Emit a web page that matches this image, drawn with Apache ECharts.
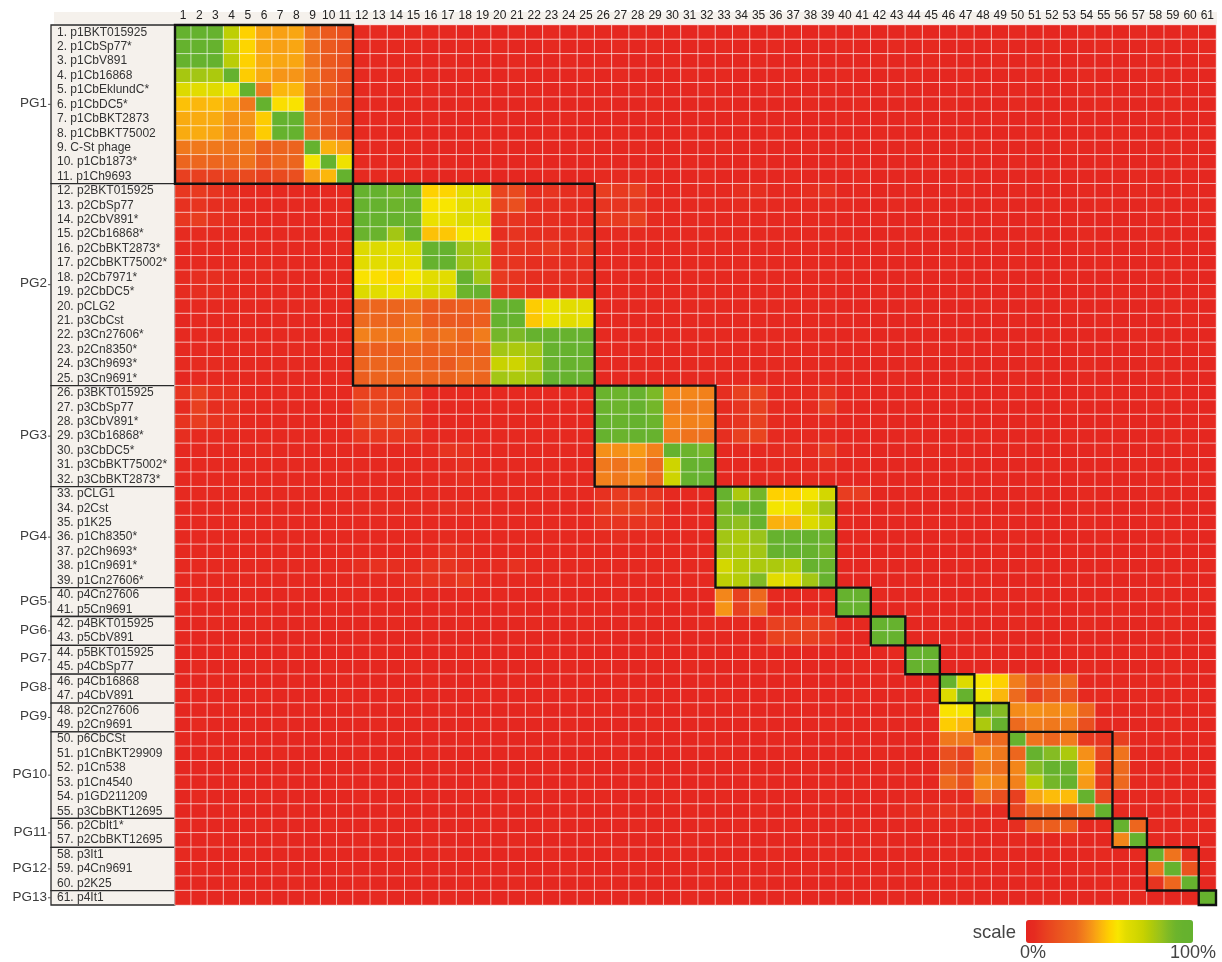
<!DOCTYPE html>
<html>
<head>
<meta charset="utf-8">
<title>Plasmid groups</title>
<style>html,body{margin:0;padding:0;background:#fff}#c{width:1222px;height:962px}</style>
<script src="https://cdn.jsdelivr.net/npm/echarts@6/dist/echarts.min.js"></script>
</head>
<body>
<div id="c"></div>
<script>
const plasmids = ["p1BKT015925","p1CbSp77*","p1CbV891","p1Cb16868","p1CbEklundC*","p1CbDC5*","p1CbBKT2873","p1CbBKT75002","C-St phage","p1Cb1873*","p1Ch9693",
"p2BKT015925","p2CbSp77","p2CbV891*","p2Cb16868*","p2CbBKT2873*","p2CbBKT75002*","p2Cb7971*","p2CbDC5*","pCLG2","p3CbCst","p3Cn27606*","p2Cn8350*","p3Ch9693*","p3Cn9691*",
"p3BKT015925","p3CbSp77","p3CbV891*","p3Cb16868*","p3CbDC5*","p3CbBKT75002*","p3CbBKT2873*",
"pCLG1","p2Cst","p1K25","p1Ch8350*","p2Ch9693*","p1Cn9691*","p1Cn27606*",
"p4Cn27606","p5Cn9691","p4BKT015925","p5CbV891","p5BKT015925","p4CbSp77","p4Cb16868","p4CbV891","p2Cn27606","p2Cn9691",
"p6CbCSt","p1CnBKT29909","p1Cn538","p1Cn4540","p1GD211209","p3CbBKT12695","p2CbIt1*","p2CbBKT12695","p3It1","p4Cn9691","p2K25","p4It1"];
const groupNames = ["PG1","PG2","PG3","PG4","PG5","PG6","PG7","PG8","PG9","PG10","PG11","PG12","PG13"];
const groupFirst = [1,12,26,33,40,42,44,46,48,50,56,58,61];
const groupLast  = [11,25,32,39,41,43,45,47,49,55,57,60,61];

const row01=[100,99,97,72,50,42,41,42,32,22,18, 4,4,3,4,3,3,2,3,2,3,2,3,2,3, 3,2,3,2,3,2,3, 2,3,2,2,3,2,3, 2,3,2,2,3,2,2,3,2,2,3,2,2,2,3,2,2,3,2,2,3,2];
const row02=[99,100,97,72,51,42,41,42,32,22,18, 3,4,3,3,2,2,3,2,3,2,2,3,2,2, 2,3,2,3,2,2,2, 3,2,2,3,2,2,2, 3,2,2,3,2,3,2,2,2,3,2,2,3,2,2,3,2,2,3,2,2,3];
const row03=[97,97,100,73,50,43,42,42,32,22,18, 3,3,3,3,2,3,2,2,2,3,2,2,3,2, 3,2,2,2,3,2,2, 2,2,3,2,2,3,2, 2,2,3,2,2,3,2,2,2,3,2,3,2,2,2,2,2,2,3,2,2,3];
const row04=[77,78,76,100,49,43,39,39,33,22,16, 3,3,3,3,2,2,3,2,2,3,2,2,2,3, 2,3,2,2,2,3,2, 3,2,2,2,3,2,2, 3,2,2,2,3,2,2,3,2,2,2,3,2,2,3,2,2,2,3,2,2,2];
const row05=[62,60,61,57,100,34,45,45,30,24,16, 3,3,3,3,3,2,2,3,2,2,3,2,2,2, 2,2,3,2,2,2,3, 2,2,2,3,2,2,3, 2,2,2,3,2,2,2,3,2,2,3,2,2,2,3,2,2,2,3,2,2,2];
const row06=[47,45,46,43,33,100,53,54,25,18,14, 3,3,2,3,2,2,3,2,2,2,3,2,2,2, 3,2,2,3,2,2,2, 3,2,2,2,2,3,2, 2,3,2,2,2,2,3,2,2,2,3,2,2,2,2,3,2,2,2,3,2,2];
const row07=[43,43,43,38,39,49,98,97,28,20,14, 3,3,3,2,3,2,2,2,3,2,2,2,3,2, 2,2,2,3,2,2,2, 2,3,2,2,2,2,2, 3,2,2,2,3,2,2,2,2,3,2,2,2,3,2,2,2,2,3,2,2,2];
const row08=[43,43,42,37,38,49,97,99,29,20,14, 3,3,2,3,2,2,2,3,2,2,2,3,2,2, 2,3,2,2,2,3,2, 2,2,2,3,2,2,2, 2,2,3,2,2,2,2,3,2,2,2,3,2,2,2,2,3,2,2,2,2,3];
const row09=[33,33,33,32,33,24,26,26,100,44,41, 3,3,3,3,2,2,2,2,3,2,2,2,2,3, 2,2,3,2,2,2,2, 3,2,2,2,2,3,2, 2,2,2,2,3,2,2,2,3,2,2,2,2,3,2,2,2,2,2,3,2,2];
const row10=[27,28,28,30,32,22,28,27,56,100,57, 4,3,3,3,2,3,2,2,2,2,3,2,2,2, 3,2,2,2,2,3,2, 2,2,3,2,2,2,2, 3,2,2,2,2,3,2,2,2,2,3,2,2,2,2,3,2,2,2,2,3,2];
const row11=[12,12,12,14,16,12,16,18,40,45,100, 4,4,3,3,2,2,3,2,2,2,2,3,2,2, 4,4,4,3,2,2,3, 2,2,2,2,3,2,2, 2,3,2,2,2,2,2,3,2,2,2,2,3,2,2,2,2,3,2,2,2,2];
const row12=[9,10,8,6,4,4,3,3,3,3,4, 96,98,88,95,50,51,60,60,14,16,6,8,6,6, 11,10,12,4,3,3,3, 3,6,6,3,3,6,7, 2,3,2,2,3,2,2,3,2,2,3,2,2,2,3,2,2,3,2,2,3,2];
const row13=[7,8,6,6,3,3,3,3,3,3,4, 96,96,90,94,54,55,60,60,14,18,6,6,6,4, 8,8,8,4,3,3,3, 3,5,5,3,3,4,4, 3,2,2,3,2,3,2,2,2,3,2,2,3,2,2,3,2,2,3,2,2,3];
const row14=[9,11,7,6,4,3,3,3,3,3,4, 98,96,96,92,58,58,63,63,8,8,6,6,4,4, 10,10,12,5,3,3,3, 3,3,3,3,3,3,3, 2,2,3,2,2,3,2,2,2,3,2,3,2,2,2,2,2,2,3,2,2,3];
const row15=[5,5,4,4,3,3,3,3,3,3,3, 92,92,78,96,47,48,56,56,6,8,6,6,6,6, 3,4,4,3,3,3,3, 3,3,3,3,3,3,3, 3,2,2,2,3,2,2,3,2,2,2,3,2,2,3,2,2,2,3,2,2,2];
const row16=[3,4,3,3,3,3,3,3,3,3,5, 62,62,60,64,97,97,78,76,8,8,8,10,6,10, 3,3,3,3,3,3,3, 3,3,3,3,3,3,3, 2,2,2,3,2,2,2,3,2,2,3,2,2,2,3,2,2,2,3,2,2,2];
const row17=[3,3,3,3,3,5,3,3,3,3,3, 60,60,60,60,97,97,78,74,8,8,6,6,6,6, 3,3,3,3,3,3,3, 3,3,3,3,3,3,3, 2,3,2,2,2,2,3,2,2,2,3,2,2,2,2,3,2,2,2,3,2,2];
const row18=[5,6,6,5,3,5,3,3,3,3,3, 54,53,50,55,60,60,95,78,10,8,6,6,6,6, 3,3,3,3,3,3,3, 3,3,3,3,3,3,3, 3,2,2,2,3,2,2,2,2,3,2,2,2,3,2,2,2,2,3,2,2,2];
const row19=[5,6,6,4,4,4,3,3,3,3,3, 62,60,58,60,64,64,90,94,8,8,6,6,6,6, 3,3,3,3,3,3,3, 3,3,3,3,3,3,3, 2,2,3,2,2,2,2,3,2,2,2,3,2,2,2,2,3,2,2,2,2,3];
const row20=[3,3,3,3,3,3,3,3,5,3,3, 27,28,27,30,22,22,24,24,96,96,49,58,60,60, 3,3,3,3,3,3,3, 3,3,3,3,3,3,3, 2,2,2,2,3,2,2,2,3,2,2,2,2,3,2,2,2,2,2,3,2,2];
const row21=[2,3,3,3,3,2,3,3,3,3,3, 30,28,27,32,22,22,22,24,96,96,48,58,60,59, 3,3,3,3,3,3,3, 3,3,3,3,3,3,3, 3,2,2,2,2,3,2,2,2,2,3,2,2,2,2,3,2,2,2,2,3,2];
const row22=[3,3,3,3,3,3,3,3,3,3,3, 35,33,33,35,30,32,28,34,88,86,95,96,94,94, 3,3,3,3,3,3,3, 3,3,3,3,3,3,3, 2,3,2,2,2,2,2,3,2,2,2,2,3,2,2,2,2,3,2,2,2,2];
const row23=[3,3,3,3,3,3,3,4,4,4,3, 24,24,24,26,24,26,24,26,78,76,78,97,96,95, 3,3,3,3,3,3,3, 3,3,3,3,3,3,3, 2,2,3,2,2,3,2,2,2,3,2,3,2,2,2,2,2,2,3,2,2,3];
const row24=[4,5,5,3,3,3,3,3,3,4,3, 26,27,27,28,24,22,30,27,70,68,76,92,94,92, 3,3,3,3,3,3,3, 3,3,3,3,3,3,3, 3,2,2,2,3,2,2,3,2,2,2,3,2,2,3,2,2,2,3,2,2,2];
const row25=[2,3,3,3,3,3,3,3,3,3,3, 24,26,26,28,26,26,30,27,78,76,78,97,96,94, 3,3,3,3,3,3,3, 3,3,3,3,3,3,3, 2,2,2,3,2,2,2,3,2,2,3,2,2,2,3,2,2,2,3,2,2,2];
const row26=[8,12,7,7,3,3,3,3,3,3,3, 13,14,14,12,3,3,3,3,3,3,3,3,3,3, 92,90,94,86,36,36,35, 6,12,14,4,4,5,8, 2,3,2,2,2,2,3,2,2,2,3,2,2,2,2,3,2,2,2,3,2,2];
const row27=[5,12,6,7,3,3,3,3,3,3,3, 14,14,14,12,3,3,3,3,3,3,3,3,3,3, 92,90,95,88,34,33,34, 5,8,12,4,4,5,12, 3,2,2,2,3,2,2,2,2,3,2,2,2,3,2,2,2,2,3,2,2,2];
const row28=[8,11,8,7,3,3,3,3,3,3,3, 14,15,15,12,3,3,3,3,3,3,3,3,3,3, 96,93,95,90,36,35,35, 6,8,12,4,3,3,4, 2,2,3,2,2,2,2,3,2,2,2,3,2,2,2,2,3,2,2,2,2,3];
const row29=[6,4,4,3,3,3,3,3,3,3,3, 9,9,9,8,3,3,3,3,3,3,3,3,3,3, 96,92,94,94,34,32,31, 6,12,14,4,3,4,4, 2,2,2,2,3,2,2,2,3,2,2,2,2,3,2,2,2,2,2,3,2,2];
const row30=[3,3,3,3,3,5,3,3,3,3,3, 3,3,3,3,5,8,7,3,3,3,3,3,3,3, 38,38,40,35,95,90,87, 3,3,3,4,6,5,10, 3,2,2,2,2,3,2,2,2,2,3,2,2,2,2,3,2,2,2,2,3,2];
const row31=[3,3,3,3,3,3,3,3,3,3,3, 3,3,3,3,3,4,6,3,3,3,3,3,3,3, 33,32,36,29,68,96,95, 3,3,3,4,3,5,6, 2,3,2,2,2,2,2,3,2,2,2,2,3,2,2,2,2,3,2,2,2,2];
const row32=[3,3,3,3,3,3,3,3,3,3,3, 3,3,3,3,3,4,6,3,3,3,3,3,3,3, 35,33,36,29,68,96,95, 3,3,3,4,3,5,3, 2,2,3,2,2,3,2,2,2,3,2,3,2,2,2,2,2,2,3,2,2,3];
const row33=[3,3,3,3,3,3,3,3,3,3,3, 3,3,3,3,3,3,3,3,3,3,3,3,3,3, 7,10,9,8,3,3,3, 96,76,88,50,50,56,66, 11,11,2,2,3,2,2,3,2,2,2,3,2,2,3,2,2,2,3,2,2,2];
const row34=[3,3,3,3,3,3,3,3,3,3,3, 5,5,5,5,5,6,6,5,3,3,3,3,3,3, 10,13,13,10,3,3,3, 86,97,95,56,57,68,80, 3,3,2,3,2,2,2,3,2,2,3,2,2,2,3,2,2,2,3,2,2,2];
const row35=[3,3,3,3,3,3,3,3,3,3,3, 3,3,3,3,3,3,3,3,3,3,3,3,3,3, 8,8,8,8,3,3,3, 85,82,96,44,44,62,72, 3,2,2,2,2,3,2,2,2,3,2,2,2,2,3,2,2,2,3,2,2,2];
const row36=[3,3,3,3,3,3,3,3,3,3,3, 3,3,3,3,3,5,4,3,3,3,3,3,3,3, 5,6,4,5,3,3,3, 78,76,80,97,96,95,90, 2,3,2,2,2,2,3,2,2,2,3,2,2,2,2,3,2,2,2,3,2,2];
const row37=[3,3,3,3,3,3,3,3,3,3,3, 3,3,3,3,4,7,6,3,3,3,3,3,3,3, 3,3,3,3,3,3,3, 78,76,78,96,97,95,88, 3,2,2,2,3,2,2,2,2,3,2,2,2,3,2,2,2,2,3,2,2,2];
const row38=[3,3,3,3,3,3,3,3,3,3,3, 6,7,6,5,8,8,6,4,5,7,3,3,3,3, 3,3,3,3,3,3,3, 66,74,76,76,74,96,92, 2,2,3,2,2,2,2,3,2,2,2,3,2,2,2,2,3,2,2,2,2,3];
const row39=[3,3,3,3,3,3,3,3,3,3,3, 3,4,4,7,8,7,10,5,3,3,3,3,3,3, 3,3,3,3,3,3,3, 72,74,85,60,62,78,96, 2,2,2,2,3,2,2,2,3,2,2,2,2,3,2,2,2,2,2,3,2,2];
const row40=[2,3,2,2,3,2,2,3,2,2,3, 3,2,2,3,2,2,3,2,3,2,2,3,2,2, 2,3,2,2,3,2,2, 36,12,29,3,3,3,3, 96,96,3,2,2,3,2,2,2,3,2,3,2,2,2,2,2,2,3,2,2,3];
const row41=[3,2,2,3,2,3,2,2,2,3,2, 2,3,2,2,2,3,2,2,2,3,2,2,3,2, 3,2,2,3,2,3,2, 39,12,29,3,3,3,3, 96,96,2,2,3,2,2,2,2,3,2,2,3,2,2,2,3,2,2,3,2,2];
const row42=[2,2,3,2,2,3,2,2,3,2,2, 2,2,3,2,2,2,3,2,2,2,3,2,2,3, 2,2,3,2,2,2,3, 3,3,3,12,12,13,10, 2,3,96,96,2,2,3,2,2,2,3,2,2,2,3,2,2,2,2,3,2,2];
const row43=[3,2,2,2,3,2,2,2,3,2,2, 3,2,2,2,3,2,2,2,2,3,2,2,2,2, 3,2,2,2,3,2,2, 3,3,3,13,13,12,9, 3,2,96,96,2,3,2,2,2,3,2,2,2,3,2,2,2,2,3,2,2,2];
const row44=[2,2,2,3,2,2,2,3,2,2,2, 2,3,2,2,2,2,3,2,2,2,2,3,2,2, 2,2,2,3,2,2,2, 2,2,3,2,2,2,2, 2,2,2,3,96,96,2,2,3,2,2,2,2,3,2,2,2,3,2,2,2,2];
const row45=[2,3,2,2,2,3,2,2,2,3,2, 2,2,2,3,2,2,2,3,2,2,2,2,3,2, 3,2,2,2,2,3,2, 2,2,2,3,2,2,2, 2,3,2,2,96,96,2,2,2,3,2,2,2,2,3,2,2,2,2,3,2,2];
const row46=[2,2,3,2,2,2,2,3,2,2,3, 2,2,2,2,3,2,2,2,2,3,2,2,2,3, 2,3,2,2,2,2,3, 2,2,2,2,3,2,2, 2,2,3,2,2,2, 96,62,54,50, 34,20,24,30,3,3, 3,3, 3,3,2, 2];
const row47=[3,2,2,2,2,3,2,2,2,2,3, 2,2,3,2,2,2,2,3,2,2,2,2,3,2, 2,2,3,2,2,2,2, 3,2,2,2,2,3,2, 2,3,2,2,2,3, 62,95,56,45, 30,12,20,18,3,3, 2,3, 2,2,3, 2];
const row48=[2,2,2,3,2,2,2,2,3,2,2, 3,2,2,2,2,3,2,2,2,2,3,2,2,2, 3,2,2,2,2,3,2, 2,3,2,2,2,2,2, 3,2,2,2,3,2, 54,56,96,84, 37,38,37,37,28,3, 3,2, 3,2,2, 3];
const row49=[2,3,2,2,2,2,3,2,2,2,2, 2,3,2,2,2,2,2,3,2,2,2,2,3,2, 2,2,2,3,2,2,2, 2,2,3,2,2,2,3, 2,2,3,2,2,2, 49,45,76,96, 30,34,33,33,18,3, 2,2, 2,3,2, 2];
const row50=[3,2,2,2,3,2,2,2,2,3,2, 2,2,3,2,2,2,3,2,2,2,2,2,3,2, 3,2,2,2,2,2,3, 2,2,2,3,2,2,2, 3,2,2,2,2,3, 33,33,26,30, 94,32,27,34,10,8, 12,3, 3,2,2, 3];
const row51=[2,2,3,2,2,2,3,2,2,2,2, 3,2,2,2,3,2,2,2,2,2,3,2,2,2, 2,3,2,2,2,2,2, 3,2,2,2,3,2,2, 2,2,3,2,2,2, 18,12,37,33, 28,96,84,76,38,14, 32,3, 2,3,2, 2];
const row52=[2,2,2,2,3,2,2,2,3,2,2, 2,3,2,2,2,3,2,2,2,2,2,3,2,2, 2,2,3,2,2,2,2, 2,3,2,2,2,3,2, 2,2,2,3,2,2, 20,14,33,31, 36,84,96,90,42,8, 30,3, 2,2,3, 2];
const row53=[3,2,2,2,2,2,3,2,2,2,3, 2,2,2,3,2,2,2,3,2,2,2,2,2,3, 2,2,2,3,2,2,2, 2,2,3,2,2,2,3, 2,3,2,2,3,2, 30,18,38,36, 35,74,88,96,40,8, 29,3, 3,2,2, 2];
const row54=[2,3,2,2,2,3,2,2,2,2,2, 3,2,2,2,2,2,3,2,2,2,3,2,2,2, 3,2,2,2,3,2,2, 3,2,2,2,2,2,3, 2,2,2,2,3,2, 5,4,28,18, 12,42,46,46,96,16, 3,3, 2,3,2, 3];
const row55=[2,2,2,3,2,2,2,3,2,2,2, 2,2,3,2,2,2,2,2,3,2,2,2,3,2, 2,3,2,2,2,3,2, 2,2,3,2,2,3,2, 3,2,2,3,6,6, 8,6,5,4, 14,26,30,24,33,96, 4,3, 2,2,2, 3];
const row56=[3,2,2,2,2,3,2,2,2,3,2, 2,3,2,2,2,2,2,3,2,2,2,3,2,2, 2,2,3,2,2,2,3, 2,3,2,2,3,2,2, 2,3,2,2,2,3, 3,3,3,3, 6,22,24,24,3,4, 96,28, 3,3,3, 3];
const row57=[2,2,3,2,2,2,3,2,2,2,2, 3,2,2,2,3,2,2,2,2,3,2,2,2,2, 3,2,2,2,2,3,2, 3,2,2,2,2,3,2, 2,2,3,2,2,2, 2,3,2,2, 3,2,2,3,2,2, 36,96, 3,2,3, 2];
const row58=[3,2,2,2,3,2,2,2,2,3,2, 2,2,3,2,2,3,2,2,2,2,2,3,2,2, 2,3,2,2,3,2,2, 2,2,2,3,2,2,3, 2,3,2,2,2,2, 3,2,2,3, 2,2,3,2,2,3, 2,3, 96,32,6, 2];
const row59=[2,3,2,2,2,2,3,2,2,2,3, 2,2,2,3,2,2,2,3,2,2,2,2,3,2, 2,2,3,2,2,2,3, 2,3,2,2,2,3,2, 3,2,2,2,3,2, 2,2,3,2, 3,2,2,2,3,2, 2,2, 32,96,20, 3];
const row60=[2,2,2,3,2,2,2,3,2,2,2, 3,2,2,2,2,2,3,2,2,3,2,2,2,2, 3,2,2,2,2,2,3, 2,2,3,2,2,2,2, 2,2,3,2,2,3, 2,3,2,2, 2,3,2,2,2,3, 3,2, 8,28,96, 2];
const row61=[3,2,2,2,2,3,2,2,3,2,2, 2,3,2,2,2,3,2,2,2,2,3,2,2,2, 2,2,3,2,2,3,2, 3,2,2,2,3,2,2, 2,2,2,3,2,2, 3,2,2,2, 2,2,3,2,2,2, 2,3, 2,2,3, 96];

const matrix=[row01,row02,row03,row04,row05,row06,row07,row08,row09,row10,row11,row12,row13,row14,row15,row16,row17,row18,row19,row20,row21,row22,row23,row24,row25,row26,row27,row28,row29,row30,row31,row32,row33,row34,row35,row36,row37,row38,row39,row40,row41,row42,row43,row44,row45,row46,row47,row48,row49,row50,row51,row52,row53,row54,row55,row56,row57,row58,row59,row60,row61];

const scaleColors=["#e52520","#e62b20","#e83a20","#e9481f","#ea541f","#ec611e","#ed6a1e","#f2811b","#f79a16","#fbb70c","#fed100","#f8e600","#e2dc00","#d6d800","#c8d200","#b0ca0a","#9ac31a","#80ba25","#6cb42c","#66b22e","#65b22e"];

const font='"Liberation Sans", Arial, sans-serif';
const narrowCount=11;
const colLabels=matrix.map((_,i)=>String(i+1));
const rowLabels=plasmids.map((p,i)=>(i+1)+". "+p);
const cells=[[],[]];
matrix.forEach((row,y)=>row.forEach((v,x)=>{
  if(x<narrowCount) cells[0].push([x,y,v]); else cells[1].push([x-narrowCount,y,v]);
}));
const cellStyle={borderColor:'rgba(255,255,255,0.6)',borderWidth:1};
function heat(i){return {type:'heatmap',xAxisIndex:i,yAxisIndex:i,data:cells[i],itemStyle:cellStyle,progressive:0,animation:false,z:2,emphasis:{disabled:true}};}
function boxItem(offset){
  return function(params,api){
    const k=offset===0?params.dataIndex:params.dataIndex+1;
    const s=groupFirst[k]-1,e=groupLast[k]-1;
    const a=api.coord([s-offset,s]),b=api.coord([e-offset,e]);
    const sz=api.size([1,1]);
    return {type:'rect',shape:{x:a[0]-sz[0]/2,y:a[1]-sz[1]/2,width:b[0]-a[0]+sz[0],height:b[1]-a[1]+sz[1]},
      style:{fill:'none',stroke:'#111',lineWidth:2.4}};
  };
}
function panelItem(params,api){
  const k=params.dataIndex;
  const s=groupFirst[k]-1,e=groupLast[k]-1;
  const a=api.coord([0,s]),b=api.coord([0,e]);
  const sz=api.size([1,1]);
  const right=a[0]-sz[0]/2, left=right-124, top=a[1]-sz[1]/2, bottom=b[1]+sz[1]/2, mid=(top+bottom)/2;
  return {type:'group',children:[
    {type:'rect',shape:{x:left,y:top,width:124,height:bottom-top},style:{fill:'#f5f1ec',stroke:'#2a2a2a',lineWidth:1.3}},
    {type:'line',shape:{x1:left-3,y1:mid,x2:left,y2:mid},style:{stroke:'#555',lineWidth:1}},
    {type:'text',style:{text:groupNames[k],x:left-4,y:mid-1,align:'right',verticalAlign:'middle',font:'13.5px '+font,fill:'#3c3c3c'}}
  ]};
}
const chart=echarts.init(document.getElementById('c'),null,{renderer:'canvas'});
const xBase={type:'category',position:'top',axisLine:{show:false},axisTick:{show:false},splitLine:{show:false},splitArea:{show:false},z:10,
  axisLabel:{interval:0,margin:3,fontSize:12,fontFamily:font,color:'#222',hideOverlap:false}};
const yBase={type:'category',inverse:true,data:rowLabels,axisLine:{show:false},axisTick:{show:false},splitLine:{show:false},splitArea:{show:false},z:10};
chart.setOption({
  animation:false,
  backgroundColor:'#fff',
  grid:[{left:175,top:25,width:178,height:880},{left:353,top:25,width:863,height:880}],
  xAxis:[Object.assign({},xBase,{gridIndex:0,data:colLabels.slice(0,narrowCount)}),
         Object.assign({},xBase,{gridIndex:1,data:colLabels.slice(narrowCount)})],
  yAxis:[Object.assign({},yBase,{gridIndex:0,axisLabel:{interval:0,align:'left',margin:118,fontSize:12,fontFamily:font,color:'#333',padding:[0,0,2,0]}}),
         Object.assign({},yBase,{gridIndex:1,axisLabel:{show:false}})],
  visualMap:{type:'continuous',seriesIndex:[0,1],dimension:2,min:0,max:100,orient:'horizontal',calculable:false,realtime:false,hoverLink:false,
    left:1026,top:920,itemWidth:23,itemHeight:167,padding:0,text:null,showLabel:false,inRange:{color:scaleColors}},
  graphic:[
    {type:'rect',z:-1,shape:{x:54,y:12,width:1163,height:12},style:{fill:'#f5f1ec'}},
    {type:'text',x:1016,y:933,style:{text:'scale',align:'right',verticalAlign:'middle',font:'18.5px '+font,fill:'#444'}},
    {type:'text',x:1033,y:953,style:{text:'0%',align:'center',verticalAlign:'middle',font:'18px '+font,fill:'#444'}},
    {type:'text',x:1193,y:953,style:{text:'100%',align:'center',verticalAlign:'middle',font:'18px '+font,fill:'#444'}}
  ],
  series:[heat(0),heat(1),
    {type:'custom',coordinateSystem:'cartesian2d',xAxisIndex:0,yAxisIndex:0,z:5,clip:false,silent:true,renderItem:boxItem(0),encode:{x:0,y:1},data:[[0,0]]},
    {type:'custom',coordinateSystem:'cartesian2d',xAxisIndex:1,yAxisIndex:1,z:5,clip:false,silent:true,renderItem:boxItem(narrowCount),encode:{x:0,y:1},
      data:groupFirst.slice(1).map(f=>[f-1-narrowCount,f-1])},
    {type:'custom',coordinateSystem:'cartesian2d',xAxisIndex:0,yAxisIndex:0,z:1,clip:false,silent:true,renderItem:panelItem,encode:{x:0,y:1},
      data:groupFirst.map(f=>[0,f-1])}
  ]
});
</script>
</body>
</html>
